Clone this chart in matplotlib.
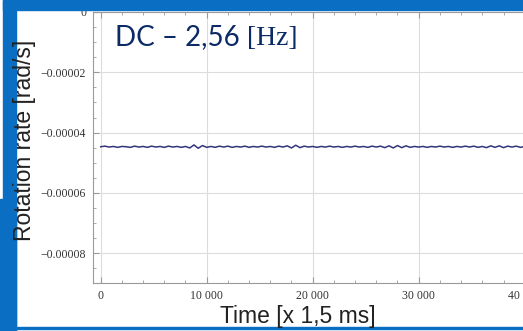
import numpy as np
import matplotlib
matplotlib.use("Agg")
import matplotlib.pyplot as plt
from matplotlib.patches import Rectangle
from matplotlib.ticker import MultipleLocator, FuncFormatter

# rotation rate, every 400 samples (units of 1e-7 rad/s)
rate_e7 = [
    -447, -445, -448, -446, -449, -446, -447, -449, -445, -448, -446,
    -449, -445, -448, -446, -449, -445, -448, -446, -449, -446,
    -451, -441, -452, -443, -449,
    -446, -449, -445, -448, -445, -449, -446, -448, -445, -449, -446, -448, -445, -448, -446,
    -449, -445, -448, -444, -451, -442, -450, -445, -448, -446,
    -449, -446, -448, -445, -448, -446, -449, -446, -448, -445, -448, -446, -449, -445, -448,
    -445, -450, -444, -451, -443, -450, -444, -449, -446, -448,
    -446, -449, -446, -448, -445, -448, -446, -449, -446, -448, -445, -448, -445, -449, -446,
    -450, -444, -449, -444, -450, -445, -448, -445, -449, -446, -449, -445, -448, -446, -449,
]
sample_step = 400
time = np.arange(len(rate_e7)) * sample_step
rate = np.array(rate_e7) * 1e-7

x_ticks = [0, 10000, 20000, 30000, 40000]
y_ticks = [0, -0.00002, -0.00004, -0.00006, -0.00008]

W, H = 523, 331
fig = plt.figure(figsize=(W / 100, H / 100), dpi=100)
fig.patch.set_facecolor("white")

blue = "#0a6fc2"
def px_rect(x, y, w, h, color):
    fig.patches.append(Rectangle((x / W, 1 - (y + h) / H), w / W, h / H,
                                 transform=fig.transFigure, color=color, zorder=0))

# slide decoration
px_rect(3, 0, 520, 10, blue)
px_rect(3, 0, 13, 331, blue)
px_rect(0, 199, 16, 132, blue)
px_rect(16, 327, 507, 2, blue)

ax = fig.add_axes([93 / W, (H - 283) / H, (560 - 93) / W, (283 - 12) / H])
ax.plot(time, rate, color="#34347c", lw=1.1)

ax.set_xlim(-726, 43330)
ax.set_ylim(-0.0000899, 0)
ax.set_xticks(x_ticks)
ax.set_yticks(y_ticks)
ax.xaxis.set_minor_locator(MultipleLocator(2000))
ax.yaxis.set_minor_locator(MultipleLocator(0.000005))
ax.xaxis.set_major_formatter(FuncFormatter(
    lambda v, p: "0" if v == 0 else f"{int(v):,}".replace(",", " ")))
ax.yaxis.set_major_formatter(FuncFormatter(
    lambda v, p: "0" if abs(v) < 1e-12 else f"{v:.5f}".replace("-", "\u2212")))

ax.grid(True, which="major", color="#dcdcdc", lw=0.8)
ax.tick_params(which="both", direction="in", top=True, right=True,
               color="#9a9a9a", labelcolor="#333333", labelsize=8.5, pad=5)
ax.tick_params(which="major", length=4)
ax.tick_params(which="minor", length=2)
for lab in ax.get_xticklabels() + ax.get_yticklabels():
    lab.set_family("Liberation Serif")
for s in ax.spines.values():
    s.set_color("#9a9a9a")
    s.set_linewidth(0.8)

fig.text(25 / W, 1 - 140 / H, "Rotation rate [rad/s]", rotation=90,
         ha="center", va="center", fontsize=16.5, family="Liberation Sans", color="#222222")
fig.text(298 / W, 1 - 317 / H, "Time [x 1,5 ms]", ha="center", va="center",
         fontsize=16.5, family="Liberation Sans", color="#222222")

fig.text(115 / W, 1 - 45 / H, "DC \u2013 2,56", ha="left", va="baseline",
         fontsize=20, family="Lato", color="#0b2a66")
fig.text(247 / W, 1 - 45 / H, "[Hz]", ha="left", va="baseline",
         fontsize=20, family="Liberation Serif", color="#0b2a66")

fig.savefig("out.png", dpi=100)
